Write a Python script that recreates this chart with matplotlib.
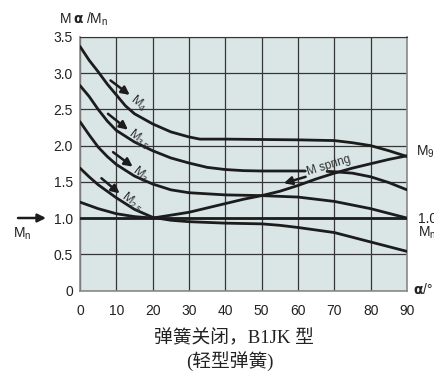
import matplotlib.pyplot as plt
import numpy as np

plt.rcParams['font.family'] = ['Liberation Sans', 'DejaVu Sans']
plt.rcParams['mathtext.default'] = 'regular'

# values
ang = [0, 10, 20, 30, 40, 50, 60, 70, 80, 90]
y_ticks = [0, 0.5, 1.0, 1.5, 2.0, 2.5, 3.0, 3.5]
y_labels = ['0', '0.5', '1.0', '1.5', '2.0', '2.5', '3.0', '3.5']

m4_x = [0, 2.5, 5, 7.5, 10, 12.5, 15, 20, 25, 30, 33, 40, 50, 60, 70, 75, 80, 85, 90]
m4_y = [3.37, 3.18, 3.02, 2.85, 2.70, 2.55, 2.44, 2.30, 2.19, 2.12, 2.09, 2.09, 2.085, 2.08, 2.07, 2.04, 2.0, 1.93, 1.85]

m35_x = [0, 2.5, 5, 7.5, 10, 15, 20, 25, 30, 35, 40, 45, 50, 55, 62, 64, 68, 70, 75, 80, 85, 90]
m35_y = [2.83, 2.68, 2.50, 2.34, 2.21, 2.05, 1.93, 1.83, 1.76, 1.70, 1.67, 1.655, 1.65, 1.65, 1.65,
         np.nan, 1.645, 1.64, 1.62, 1.57, 1.49, 1.39]

m3_x = [0, 2.5, 5, 7.5, 10, 15, 20, 25, 30, 40, 50, 60, 70, 80, 90]
m3_y = [2.33, 2.15, 1.98, 1.85, 1.74, 1.58, 1.47, 1.39, 1.35, 1.32, 1.31, 1.29, 1.23, 1.13, 1.0]

m25_x = [0, 2.5, 5, 10, 15, 20, 25, 30, 40, 50, 55, 60, 70, 80, 90]
m25_y = [1.69, 1.57, 1.46, 1.28, 1.12, 1.01, 0.97, 0.95, 0.93, 0.92, 0.90, 0.87, 0.80, 0.67, 0.54]

spring_x = [0, 5, 10, 15, 20, 25, 30, 35, 40, 45, 50, 55, 60, 65, 70, 75, 80, 85, 90]
spring_y = [1.22, 1.13, 1.06, 1.02, 1.0, 1.04, 1.08, 1.14, 1.20, 1.26, 1.31, 1.37, 1.45, 1.54, 1.62,
            1.69, 1.75, 1.81, 1.86]

mn_x = [0, 90]
mn_y = [1.0, 1.0]

W, H = 435, 378


def px(x, y):
    return (x / W, 1 - y / H)


fig = plt.figure(figsize=(W / 100, H / 100), dpi=100)
ax = fig.add_axes([80 / W, 1 - 290.5 / H, 327 / W, 253.5 / H])
ax.set_facecolor('#d9e6e5')

line_c = '#1c1c1c'
for xs, ys in [(m4_x, m4_y), (m35_x, m35_y), (m3_x, m3_y), (m25_x, m25_y),
               (spring_x, spring_y), (mn_x, mn_y)]:
    ax.plot(xs, ys, color=line_c, lw=2.0, solid_capstyle='round', solid_joinstyle='round', zorder=3)

ax.set_xlim(0, 90)
ax.set_ylim(0, 3.5)
ax.set_xticks(ang)
ax.set_yticks(y_ticks)
ax.set_yticklabels(y_labels)
ax.grid(True, color='#353535', lw=0.9)
ax.tick_params(length=0, labelsize=10, labelcolor='#222222')
ax.tick_params(axis='x', pad=10)
ax.tick_params(axis='y', pad=5)
for side in ['left', 'bottom', 'right']:
    ax.spines[side].set_color('#8a8a8a')
    ax.spines[side].set_linewidth(1.2)
ax.spines['top'].set_color('#353535')

arrow_kw = dict(arrowstyle='-|>', color=line_c, lw=1.8, mutation_scale=12, shrinkA=0, shrinkB=0)
curve_labels = [
    ('M$_4$', (8.4, 2.90), (13.7, 2.70), (16.0, 2.59)),
    ('M$_{3.5}$', (7.7, 2.44), (13.2, 2.22), (16.3, 2.09)),
    ('M$_3$', (9.1, 1.91), (14.5, 1.71), (16.7, 1.61)),
    ('M$_{2.5}$', (5.9, 1.55), (10.9, 1.34), (14.3, 1.21)),
]
for txt, start, tip, pos in curve_labels:
    ax.annotate('', xy=tip, xytext=start, arrowprops=arrow_kw, zorder=4)
    ax.text(pos[0], pos[1], txt, rotation=-38, fontsize=9, color='#333333',
            ha='center', va='center', zorder=4)

ax.annotate('', xy=(56.1, 1.48), xytext=(62.1, 1.57), arrowprops=arrow_kw, zorder=4)
ax.text(68.6, 1.72, 'M spring', rotation=17, fontsize=8.5, color='#333333',
        ha='center', va='center', zorder=4)

# axis captions around the frame
fig.text(*px(60, 19), 'M', fontsize=10, color='#222222', va='center')
fig.text(*px(73, 19), 'α', fontsize=10, color='#222222', va='center', weight='bold',
         family='DejaVu Sans')
fig.text(*px(86, 19), '/M$_n$', fontsize=10, color='#222222', va='center')

fig.text(*px(413, 290), 'α', fontsize=10, color='#222222', va='center', weight='bold',
         family='DejaVu Sans')
fig.text(*px(423, 290), '/°', fontsize=10, color='#222222', va='center')

fig.text(*px(416, 152), 'M$_{90}$', fontsize=10, color='#222222', va='center')
fig.text(*px(418, 219), '1.0', fontsize=10, color='#222222', va='center')
fig.text(*px(418, 233), 'M$_n$', fontsize=10, color='#222222', va='center')

ax.annotate('', xy=px(46, 218), xycoords='figure fraction', xytext=px(18, 218),
            textcoords='figure fraction', arrowprops=arrow_kw, annotation_clip=False)
fig.text(*px(22, 234), 'M$_n$', fontsize=10, color='#222222', va='center', ha='center')

cn = ['Liberation Serif', 'Noto Sans CJK SC']
fig.text(*px(234, 338), '弹簧关闭，B1JK 型', fontsize=13.5, family=cn, color='#222222',
         ha='center', va='center')
fig.text(*px(230, 361), '(轻型弹簧)', fontsize=13.5, family=cn, color='#222222',
         ha='center', va='center')

plt.savefig('out.png', dpi=100)
